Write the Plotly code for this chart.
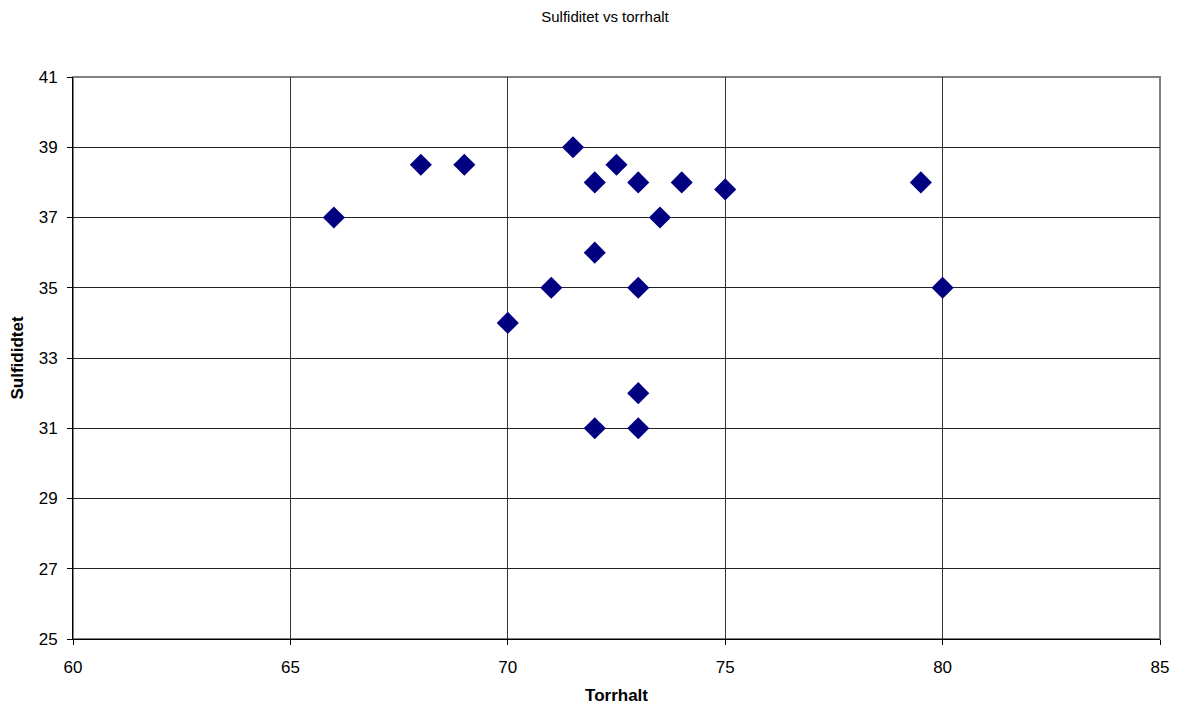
import plotly.graph_objects as go

# Torrhalt (x) and sulfiditet (y) observations
torrhalt = [66, 68, 69, 70, 71, 71.5, 72, 72, 72, 72.5, 73, 73, 73, 73, 73.5, 74, 75, 79.5, 80]
sulfiditet = [37, 38.5, 38.5, 34, 35, 39, 38, 36, 31, 38.5, 38, 35, 32, 31, 37, 38, 37.8, 38, 35]

x_ticks = [60, 65, 70, 75, 80, 85]
y_ticks = [25, 27, 29, 31, 33, 35, 37, 39, 41]

FONT = "Liberation Sans, Arial, sans-serif"

fig = go.Figure()
fig.add_trace(go.Scatter(
    x=torrhalt, y=sulfiditet, mode="markers",
    marker=dict(symbol="diamond", size=17, color="#000080",
                line=dict(width=0)),
    showlegend=False, cliponaxis=False,
))

fig.update_layout(
    width=1187, height=713,
    margin=dict(l=73, r=27, t=77, b=72),
    paper_bgcolor="white", plot_bgcolor="white",
    font=dict(family=FONT, size=17, color="black"),
    title=dict(text="Sulfiditet vs torrhalt", x=605 / 1187, xanchor="center",
               y=1 - 17 / 713, yanchor="middle",
               font=dict(family=FONT, size=15, color="black")),
    xaxis=dict(
        range=[60, 85], tickvals=x_ticks, ticks="outside", ticklen=5,
        tickcolor="black", showline=True, linecolor="black", linewidth=1,
        showgrid=True, gridcolor="#333333", gridwidth=1, zeroline=False,
        ticklabelstandoff=8,
        title=dict(text="<b>Torrhalt</b>", font=dict(family=FONT, size=17), standoff=12),
        tickfont=dict(size=17),
    ),
    yaxis=dict(
        range=[25, 41], tickvals=y_ticks, ticks="outside", ticklen=5,
        tickcolor="black", showline=True, linecolor="black", linewidth=1,
        showgrid=True, gridcolor="#222222", gridwidth=1, zeroline=False,
        ticklabelstandoff=6,
        title=dict(text="<b>Sulfididtet</b>", font=dict(family=FONT, size=17), standoff=10),
        tickfont=dict(size=17),
    ),
    shapes=[dict(type="rect", xref="paper", yref="paper", x0=0, y0=0, x1=1, y1=1,
                 line=dict(color="#808080", width=2), layer="below")],
)

fig.write_html("out.html")
